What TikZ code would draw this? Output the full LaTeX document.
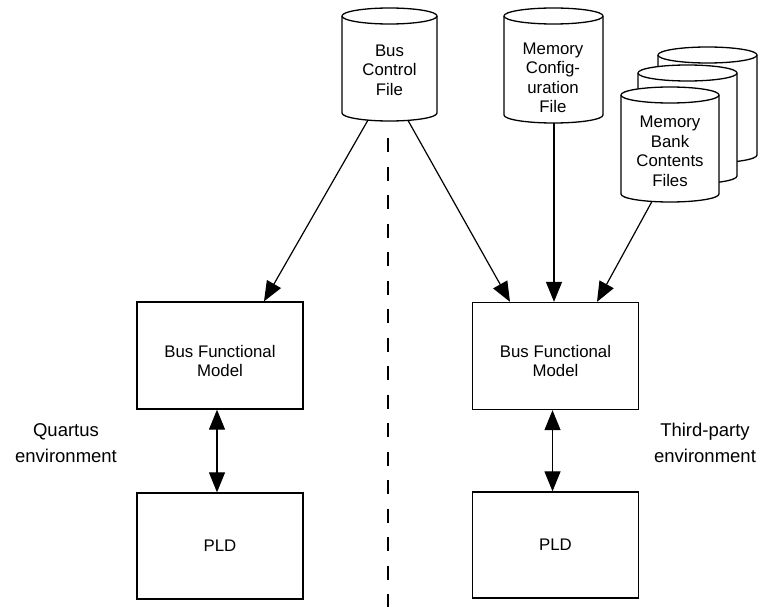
\documentclass[tikz,border=0pt]{standalone}
\usepackage{fontspec}
\setmainfont{Liberation Sans}
\usetikzlibrary{arrows.meta,calc}
\tikzset{
 boxnode/.style={draw, line width=1.3pt, minimum width=166pt, minimum height=107pt, inner sep=0pt, font=\fontsize{16.8}{19.5}\selectfont},
 txt/.style={align=center, font=\fontsize{16.8}{19.5}\selectfont, inner sep=0pt},
 envtxt/.style={align=center, font=\fontsize{18.5}{26}\selectfont, inner sep=0pt},
 cylline/.style={line width=1.3pt, fill=white},
 conn/.style={line width=1.2pt, -{Triangle[length=20pt,width=16pt]}},
 dconn/.style={line width=1.2pt, {Triangle[length=20pt,width=16pt]}-{Triangle[length=20pt,width=16pt]}},
 divider/.style={line width=1.6pt, dash pattern=on 14pt off 14.5pt},
}
\newcommand{\drawcyl}[4]{%
 \pgfmathsetmacro{\cylrx}{(#2-#1)/2}%
 \filldraw[cylline] (#1,-#3) -- (#1,-#4) arc[start angle=180,end angle=360,x radius=\cylrx pt,y radius=8pt] -- (#2,-#3) arc[start angle=0,end angle=180,x radius=\cylrx pt,y radius=8pt] -- cycle;
 \draw[cylline] (#1,-#3) arc[start angle=180,end angle=360,x radius=\cylrx pt,y radius=8pt];
}
\begin{document}
\begin{tikzpicture}[x=1pt,y=1pt]
\useasboundingbox (0,0) rectangle (765,-607);
% divider
\coordinate (divtop) at (388,-138);
\coordinate (divbot) at (388,-607);
\draw[divider] (divtop) -- (divbot);
% cylinders
\drawcyl{342}{437}{16}{113}
\drawcyl{504}{603}{16}{115}
\drawcyl{658}{757}{55}{155}
\drawcyl{638}{737}{73}{176}
\drawcyl{621}{719}{95}{194}
\node[txt] (bcf) at (389.5,-70) {Bus\\Control\\File};
\node[txt] (mcf) at (553,-78) {Memory\\Config-\\uration\\File};
\node[txt] (mbc) at (670,-151.5) {Memory\\Bank\\Contents\\Files};
% boxes
\node[boxnode] (bfmL) at (220,-355.5) {};
\node[txt] (bfmLt) at (220,-361) {Bus Functional\\Model};
\node[boxnode, minimum height=106pt] (pldL) at (220,-546) {PLD};
\node[boxnode] (bfmR) at (555.5,-356) {};
\node[txt] (bfmRt) at (555.5,-361) {Bus Functional\\Model};
\node[boxnode, minimum height=106pt] (pldR) at (555.5,-545) {PLD};
% environment labels
\node[envtxt] (envQ) at (66,-443.5) {Quartus\\environment};
\node[envtxt] (envT) at (705,-442.5) {Third-party\\environment};
% connectors
\coordinate (bcfL) at (368,-120.1);
\coordinate (bcfR) at (408,-120.4);
\coordinate (mcfB) at (554,-123);
\coordinate (mbcB) at (652,-201.4);
\draw[conn] (bcfL) -- ([xshift=44pt]bfmL.north);
\draw[conn] (bcfR) -- ([xshift=-45.5pt]bfmR.north);
\draw[conn] (mcfB) -- (mcfB |- bfmR.north);
\draw[conn] (mbcB) -- ([xshift=41.5pt]bfmR.north);
\draw[dconn] ([xshift=-3pt]bfmL.south) -- ([xshift=-3pt]pldL.north);
\draw[dconn] ([xshift=-3pt]bfmR.south) -- ([xshift=-3pt]pldR.north);
\end{tikzpicture}
\end{document}
